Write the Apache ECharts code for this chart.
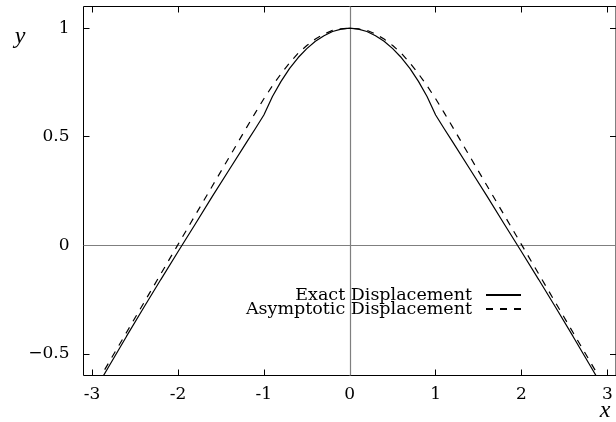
<!DOCTYPE html>
<html>
<head>
<meta charset="utf-8">
<script src="https://cdn.jsdelivr.net/npm/echarts@6/dist/echarts.min.js"></script>
<style>
  html, body { margin: 0; padding: 0; background: #fff; }
  #chart { width: 616px; height: 422px; }
</style>
</head>
<body>
<div id="chart"></div>
<script>
// Sample positions along the x axis (shared by both curves)
const xValues = [-3.1, -3, -2.8, -2.6, -2.4, -2.2, -2, -1.8, -1.6, -1.4, -1.2, -1.1,
  -1, -0.9, -0.8, -0.7, -0.6, -0.5, -0.4, -0.3, -0.2, -0.1, 0,
  0.1, 0.2, 0.3, 0.4, 0.5, 0.6, 0.7, 0.8, 0.9, 1, 1.1, 1.2,
  1.4, 1.6, 1.8, 2, 2.2, 2.4, 2.6, 2.8, 3, 3.1];

// Exact displacement y(x)
const exactDisplacement = [-0.758, -0.69, -0.555, -0.42, -0.288, -0.158, -0.03, 0.097, 0.225, 0.35, 0.475, 0.537,
  0.6, 0.685, 0.755, 0.815, 0.865, 0.906, 0.94, 0.965, 0.985, 0.996, 1.0,
  0.996, 0.985, 0.965, 0.94, 0.906, 0.865, 0.815, 0.755, 0.685, 0.6, 0.537, 0.475,
  0.35, 0.225, 0.097, -0.03, -0.158, -0.288, -0.42, -0.555, -0.69, -0.758];

// Asymptotic approximation y(x)
const asymptoticDisplacement = [-0.74, -0.672, -0.537, -0.402, -0.267, -0.132, 0.003, 0.138, 0.273, 0.408, 0.543, 0.61,
  0.675, 0.735, 0.79, 0.84, 0.885, 0.92, 0.95, 0.973, 0.99, 0.997, 1.0,
  0.997, 0.99, 0.973, 0.95, 0.92, 0.885, 0.84, 0.79, 0.735, 0.675, 0.61, 0.543,
  0.408, 0.273, 0.138, 0.003, -0.132, -0.267, -0.402, -0.537, -0.672, -0.74];

const seriesNames = ['Exact Displacement', 'Asymptotic Displacement'];

// Tick positions and their printed labels
const xTicks = [-3, -2, -1, 0, 1, 2, 3];
const xTickLabels = ['-3', '-2', '-1', '0', '1', '2', '3'];
const yTicks = [-0.5, 0, 0.5, 1];
const yTickLabels = ['\u22120.5', '0', '0.5', '1'];

const serif = 'DejaVu Serif';
const italicFont = 'italic 24px "Liberation Serif"';

const pairs = ys => xValues.map((x, i) => [x, ys[i]]);
const labelFor = (ticks, labels) => v => {
  const i = ticks.findIndex(t => Math.abs(t - v) < 1e-9);
  return i >= 0 ? labels[i] : '';
};

const tickStyle = { color: '#000', width: 1 };
const hiddenLine = { show: false, onZero: false };

const chart = echarts.init(document.getElementById('chart'), null, { renderer: 'canvas' });

chart.setOption({
  animation: false,
  backgroundColor: '#fff',
  grid: {
    left: 83.5, right: -1.5, top: 6.5, bottom: 46.5,
    show: true, borderColor: '#000', borderWidth: 1, backgroundColor: 'transparent'
  },
  xAxis: [
    {
      type: 'value', position: 'bottom', min: -3.1, max: 3.1,
      axisLine: hiddenLine, splitLine: { show: false },
      axisTick: { show: true, inside: true, length: 6, lineStyle: tickStyle, customValues: xTicks },
      axisLabel: {
        show: true, customValues: xTicks, formatter: labelFor(xTicks, xTickLabels),
        margin: 11, color: '#000', fontFamily: serif, fontSize: 17
      }
    },
    {
      type: 'value', position: 'top', min: -3.1, max: 3.1,
      axisLine: hiddenLine, splitLine: { show: false },
      axisTick: { show: true, inside: true, length: 6, lineStyle: tickStyle, customValues: xTicks },
      axisLabel: { show: false }
    }
  ],
  yAxis: [
    {
      type: 'value', position: 'left', min: -0.6, max: 1.1,
      axisLine: hiddenLine, splitLine: { show: false },
      axisTick: { show: true, inside: true, length: 6, lineStyle: tickStyle, customValues: yTicks },
      axisLabel: {
        show: true, customValues: yTicks, formatter: labelFor(yTicks, yTickLabels),
        margin: 14, color: '#000', fontFamily: serif, fontSize: 17
      }
    },
    {
      type: 'value', position: 'right', min: -0.6, max: 1.1,
      axisLine: hiddenLine, splitLine: { show: false },
      axisTick: { show: true, inside: true, length: 6, lineStyle: tickStyle, customValues: yTicks },
      axisLabel: { show: false }
    }
  ],
  legend: {
    data: seriesNames,
    orient: 'vertical', align: 'right',
    right: 94, top: 286, padding: 0,
    itemWidth: 35, itemHeight: 14, itemGap: -4,
    selectedMode: false,
    itemStyle: { opacity: 0, borderWidth: 0 },
    textStyle: { fontFamily: serif, fontSize: 17.5, color: '#000', padding: [0, 9, 0, 0] }
  },
  graphic: [
    { type: 'text', x: 20, y: 37, style: { text: 'y', font: italicFont, fill: '#000', align: 'center', verticalAlign: 'middle' } },
    { type: 'text', x: 605, y: 411, style: { text: 'x', font: italicFont, fill: '#000', align: 'center', verticalAlign: 'middle' } }
  ],
  series: [
    {
      name: seriesNames[0], type: 'line', xAxisIndex: 0, yAxisIndex: 0,
      data: pairs(exactDisplacement),
      symbol: 'none', showSymbol: false, clip: true, z: 3,
      lineStyle: { color: '#000', width: 1.2, type: 'solid' },
      itemStyle: { color: '#000' },
      markLine: {
        silent: true, symbol: ['none', 'none'], label: { show: false },
        lineStyle: { color: '#7f7f7f', width: 1.2, type: 'solid' },
        data: [{ xAxis: 0 }, { yAxis: 0 }],
        z: 1
      }
    },
    {
      name: seriesNames[1], type: 'line', xAxisIndex: 0, yAxisIndex: 0,
      data: pairs(asymptoticDisplacement),
      symbol: 'none', showSymbol: false, clip: true, z: 3,
      lineStyle: { color: '#000', width: 1.2, type: [7, 7] },
      itemStyle: { color: '#000' }
    }
  ]
});
</script>
</body>
</html>
